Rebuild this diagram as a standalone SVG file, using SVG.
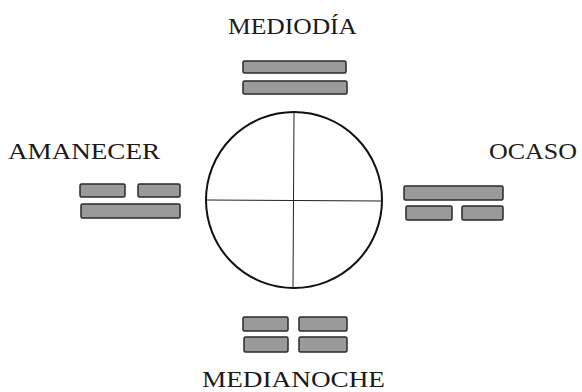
<svg xmlns="http://www.w3.org/2000/svg" width="582" height="392" viewBox="0 0 582 392">
<style>
.lbl{font-family:"Liberation Serif","DejaVu Serif",serif;font-size:24px;fill:#1a1a1a}
.bar{fill:#9a9a9a;stroke:#2a2a2a;stroke-width:1.5}
.ring{fill:#fff;stroke:#111;stroke-width:2}
.axis{stroke:#222;stroke-width:1}
</style>
<rect width="582" height="392" fill="#fff"/>
<g id="centro">
<circle class="ring" cx="294" cy="200" r="88"/>
</g>
<g id="conectores">
<line class="axis" x1="294" y1="112" x2="293" y2="288"/>
<line class="axis" x1="206" y1="200" x2="382" y2="201"/>
</g>
<g id="mediodia">
<text class="lbl" x="228" y="34" textLength="129" lengthAdjust="spacingAndGlyphs">MEDIODÍA</text>
<rect class="bar" x="243" y="61" width="103" height="12" rx="1.5"/>
<rect class="bar" x="243" y="81" width="104" height="13" rx="1.5"/>
</g>
<g id="amanecer">
<text class="lbl" x="8" y="159" textLength="152" lengthAdjust="spacingAndGlyphs">AMANECER</text>
<rect class="bar" x="80" y="184" width="45" height="13" rx="1.5"/>
<rect class="bar" x="138" y="184" width="42" height="13" rx="1.5"/>
<rect class="bar" x="81" y="204" width="99" height="14" rx="1.5"/>
</g>
<g id="ocaso">
<text class="lbl" x="489" y="159" textLength="88" lengthAdjust="spacingAndGlyphs">OCASO</text>
<rect class="bar" x="404" y="186" width="99" height="14" rx="1.5"/>
<rect class="bar" x="406" y="206" width="46" height="14" rx="1.5"/>
<rect class="bar" x="462" y="206" width="41" height="14" rx="1.5"/>
</g>
<g id="medianoche">
<rect class="bar" x="243" y="317" width="45" height="14" rx="1.5"/>
<rect class="bar" x="299" y="317" width="48" height="14" rx="1.5"/>
<rect class="bar" x="244" y="337" width="44" height="15" rx="1.5"/>
<rect class="bar" x="299" y="337" width="48" height="15" rx="1.5"/>
<text class="lbl" x="202" y="387" textLength="183" lengthAdjust="spacingAndGlyphs">MEDIANOCHE</text>
</g>
</svg>
